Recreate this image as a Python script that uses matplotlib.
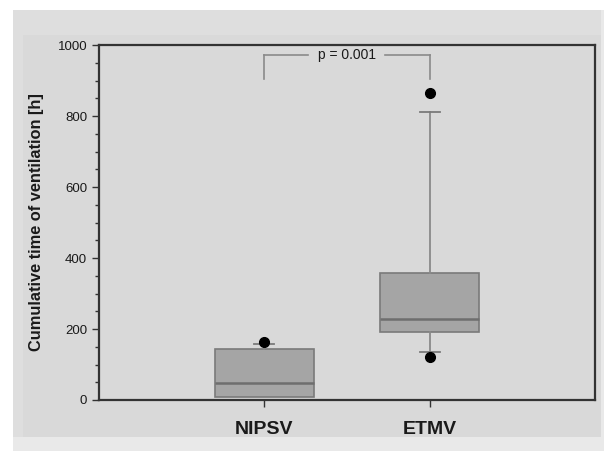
import matplotlib
matplotlib.use("Agg")
import matplotlib.pyplot as plt
from matplotlib.patches import Rectangle
from matplotlib.ticker import MultipleLocator

plt.rcParams['font.family'] = ['Liberation Sans', 'DejaVu Sans']

categories = ["NIPSV", "ETMV"]
q1 = [8, 191]
median = [49, 229]
q3 = [143, 357]
whisk_lo = [8, 136]
whisk_hi = [159, 812]
outliers = [[164], [122, 864]]
p_text = "p = 0.001"

W, H = 604, 451
fig = plt.figure(figsize=(W / 100, H / 100), dpi=100)
fig.patch.set_facecolor("white")

def frect(x0, y0, x1, y1, color):
    fig.patches.append(Rectangle((x0 / W, 1 - y1 / H), (x1 - x0) / W, (y1 - y0) / H,
                                 transform=fig.transFigure, facecolor=color,
                                 edgecolor="none", zorder=-10))

frect(13, 10, 604, 451, "#e9e9e9")
frect(13, 10, 601, 437, "#dedede")
frect(23, 35, 601, 437, "#d9d9d9")

ax = fig.add_axes([99 / W, 1 - 400 / H, (595 - 99) / W, (400 - 45) / H])
ax.set_facecolor("none")

stats = []
for i, c in enumerate(categories):
    stats.append(dict(label=c, q1=q1[i], med=median[i], q3=q3[i],
                      whislo=whisk_lo[i], whishi=whisk_hi[i], fliers=outliers[i]))

pos = [1, 2]
bp = ax.bxp(stats, positions=pos, widths=0.6, patch_artist=True,
            showfliers=True,
            boxprops=dict(facecolor="#a5a5a5", edgecolor="#7a7a7a", linewidth=1.2),
            medianprops=dict(color="#6e6e6e", linewidth=1.8),
            whiskerprops=dict(color="#8a8a8a", linewidth=1.3),
            capprops=dict(color="#7a7a7a", linewidth=1.3),
            capwidths=0.12,
            flierprops=dict(marker="o", markerfacecolor="black", markeredgecolor="black",
                            markersize=7))
# hide the degenerate lower cap of the first box (coincides with box edge)
bp["caps"][0].set_visible(False)

ax.set_xlim(0, 3)
ax.set_ylim(0, 1000)
ax.yaxis.set_major_locator(MultipleLocator(200))
ax.yaxis.set_minor_locator(MultipleLocator(50))
ax.set_xticks(pos)
ax.set_xticklabels(categories, fontsize=14, fontweight="bold", color="#1a1a1a")
ax.tick_params(axis="y", which="major", length=5, width=1, labelsize=9.5, color="#333333",
               labelcolor="#1a1a1a", direction="out")
ax.tick_params(axis="y", which="minor", length=3, width=1, color="#333333", direction="out")
ax.tick_params(axis="x", length=5, width=1, color="#333333", pad=10)
for s in ax.spines.values():
    s.set_color("#333333")
    s.set_linewidth(1.6)

ax.set_ylabel("Cumulative time of ventilation [h]", fontsize=11.8, fontweight="bold",
              color="#1a1a1a", labelpad=10)

# significance bracket
bcol = "#8a8a8a"
ytop, ybot = 972, 903
ax.plot([pos[0], pos[0]], [ybot, ytop], color=bcol, lw=1.2)
ax.plot([pos[1], pos[1]], [ybot, ytop], color=bcol, lw=1.2)
ax.plot([pos[0], 1.265], [ytop, ytop], color=bcol, lw=1.2)
ax.plot([1.73, pos[1]], [ytop, ytop], color=bcol, lw=1.2)
ax.text(1.5, ytop, p_text, ha="center", va="center", fontsize=10, color="#1a1a1a")

fig.savefig("out.png", dpi=100)
